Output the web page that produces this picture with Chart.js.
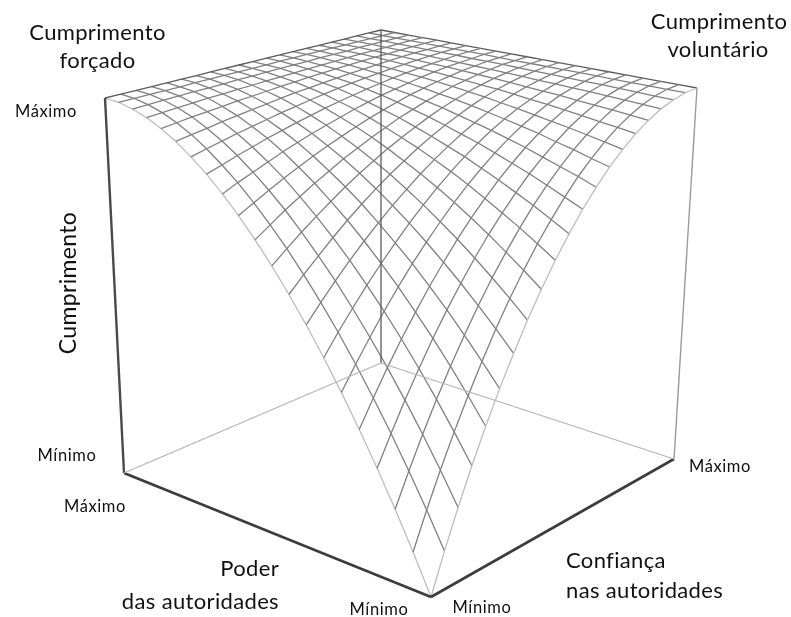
<!DOCTYPE html>
<html lang="pt">
<head>
<meta charset="utf-8">
<title>Cumprimento</title>
<script src="https://cdn.jsdelivr.net/npm/chart.js@4"></script>
<style>
	html, body { margin: 0; padding: 0; background: #fff; }
	canvas { display: block; }
</style>
</head>
<body>
<canvas id="myChart" width="791" height="617"></canvas>
<script>
// grid positions on both floor axes (0 = Mínimo, 1 = Máximo)
const poder = [0, 0.05, 0.1, 0.15, 0.2, 0.25, 0.3, 0.35, 0.4, 0.45, 0.5, 0.55, 0.6, 0.65, 0.7, 0.75, 0.8, 0.85, 0.9, 0.95, 1];
const confianca = [0, 0.05, 0.1, 0.15, 0.2, 0.25, 0.3, 0.35, 0.4, 0.45, 0.5, 0.55, 0.6, 0.65, 0.7, 0.75, 0.8, 0.85, 0.9, 0.95, 1];

// compliance height, one row per value of poder, one column per value of confianca
const cumprimento = [
	[0, .098, .19, .278, .36, .438, .51, .578, .64, .698, .75, .798, .84, .878, .91, .938, .96, .978, .99, .998, 1],
	[.098, .186, .269, .348, .422, .492, .558, .619, .675, .727, .774, .817, .856, .889, .919, .944, .964, .98, .991, .998, 1],
	[.19, .269, .344, .415, .482, .544, .603, .658, .708, .755, .798, .836, .87, .901, .927, .949, .968, .982, .992, .998, 1],
	[.278, .348, .415, .478, .538, .594, .646, .695, .74, .781, .819, .854, .884, .911, .935, .955, .971, .984, .993, .998, 1],
	[.36, .422, .482, .538, .59, .64, .686, .73, .77, .806, .84, .87, .898, .922, .942, .96, .974, .986, .994, .998, 1],
	[.438, .492, .544, .594, .64, .684, .724, .762, .798, .83, .859, .886, .91, .931, .949, .965, .978, .987, .994, .999, 1],
	[.51, .558, .603, .646, .686, .724, .76, .793, .824, .852, .878, .901, .922, .94, .956, .969, .98, .989, .995, .999, 1],
	[.578, .619, .658, .695, .73, .762, .793, .821, .848, .872, .894, .914, .932, .948, .962, .974, .983, .99, .996, .999, 1],
	[.64, .675, .708, .74, .77, .798, .824, .848, .87, .891, .91, .927, .942, .956, .968, .978, .986, .992, .996, .999, 1],
	[.698, .727, .755, .781, .806, .83, .852, .872, .891, .908, .924, .939, .952, .963, .973, .981, .988, .993, .997, .999, 1],
	[.75, .774, .798, .819, .84, .859, .878, .894, .91, .924, .938, .949, .96, .969, .978, .984, .99, .994, .998, .999, 1],
	[.798, .817, .836, .854, .87, .886, .901, .914, .927, .939, .949, .959, .968, .975, .982, .987, .992, .995, .998, .999, 1],
	[.84, .856, .87, .884, .898, .91, .922, .932, .942, .952, .96, .968, .974, .98, .986, .99, .994, .996, .998, 1, 1],
	[.878, .889, .901, .911, .922, .931, .94, .948, .956, .963, .969, .975, .98, .985, .989, .992, .995, .997, .999, 1, 1],
	[.91, .919, .927, .935, .942, .949, .956, .962, .968, .973, .978, .982, .986, .989, .992, .994, .996, .998, .999, 1, 1],
	[.938, .944, .949, .955, .96, .965, .969, .974, .978, .981, .984, .987, .99, .992, .994, .996, .998, .999, .999, 1, 1],
	[.96, .964, .968, .971, .974, .978, .98, .983, .986, .988, .99, .992, .994, .995, .996, .998, .998, .999, 1, 1, 1],
	[.978, .98, .982, .984, .986, .987, .989, .99, .992, .993, .994, .995, .996, .997, .998, .999, .999, .999, 1, 1, 1],
	[.99, .991, .992, .993, .994, .994, .995, .996, .996, .997, .998, .998, .998, .999, .999, .999, 1, 1, 1, 1, 1],
	[.998, .998, .998, .998, .998, .999, .999, .999, .999, .999, .999, 1, 1, 1, 1, 1, 1, 1, 1, 1, 1],
	[1, 1, 1, 1, 1, 1, 1, 1, 1, 1, 1, 1, 1, 1, 1, 1, 1, 1, 1, 1, 1],
];

// camera calibration: where the cube corners land on the page [min/min, poder max, confianca max, both max]
const floorCorners = [[431, 597], [124, 473], [674, 459], [381, 363]];
const topCorners = [[424, 180], [105, 98], [697, 88], [381, 30]];
const heightFalloff = 0.93; // top of the cube is nearer to the camera than the floor

const squareToQuad = function (q) {
	const [x0, y0] = q[0], [x1, y1] = q[1], [x3, y3] = q[2], [x2, y2] = q[3];
	const dx1 = x1 - x2, dx2 = x3 - x2, sx = x0 - x1 + x2 - x3;
	const dy1 = y1 - y2, dy2 = y3 - y2, sy = y0 - y1 + y2 - y3;
	const den = dx1 * dy2 - dx2 * dy1;
	const g = (sx * dy2 - dx2 * sy) / den;
	const h = (dx1 * sy - sx * dy1) / den;
	return function (p, t) {
		const w = g * p + h * t + 1;
		return [
			((x1 - x0 + g * x1) * p + (x3 - x0 + h * x3) * t + x0) / w,
			((y1 - y0 + g * y1) * p + (y3 - y0 + h * y3) * t + y0) / w,
		];
	};
};
const floorMap = squareToQuad(floorCorners);
const topMap = squareToQuad(topCorners);

const project = function (p, t, z) {
	const a = floorMap(p, t);
	const b = topMap(p, t);
	const f = (z * heightFalloff) / (1 - z + z * heightFalloff);
	return { x: a[0] + (b[0] - a[0]) * f, y: a[1] + (b[1] - a[1]) * f };
};

const edge = function (from, to, color, width) {
	return {
		data: [project(...from), project(...to)],
		showLine: true,
		borderColor: color,
		borderWidth: width,
		pointRadius: 0,
	};
};

const createDatasets = function () {
	const sets = [
		edge([1, 1, 0], [1, 0, 0], '#b4b4b4', 1.2),
		edge([1, 1, 0], [0, 1, 0], '#b4b4b4', 1.2),
		edge([1, 1, 0], [1, 1, 1], '#5a5a5a', 1.3),
		edge([1, 0, 0], [0, 0, 0], '#3c3c3c', 2.6),
		edge([0, 1, 0], [0, 0, 0], '#3c3c3c', 2.6),
		edge([1, 0, 0], [1, 0, 1], '#4a4a4a', 2.4),
		edge([0, 1, 0], [0, 1, 1], '#9a9a9a', 1.4),
	];
	poder.forEach(function (p, i) {
		sets.push({
			data: confianca.map((t, j) => project(p, t, cumprimento[i][j])),
			showLine: true,
			borderColor: i === 0 ? '#bdbdbd' : i === 20 ? '#5c5c5c' : '#808080',
			borderWidth: 1.3,
			pointRadius: 0,
		});
	});
	confianca.forEach(function (t, j) {
		sets.push({
			data: poder.map((p, i) => project(p, t, cumprimento[i][j])),
			showLine: true,
			borderColor: j === 0 ? '#bdbdbd' : j === 20 ? '#5c5c5c' : '#808080',
			borderWidth: 1.3,
			pointRadius: 0,
		});
	});
	return sets;
};

// text: content, x, y, font size, align, rotation
const labels = [
	['Cumprimento', 97.5, 33, 22, 'center', 0],
	['forçado', 97.5, 61, 22, 'center', 0],
	['Cumprimento', 719, 22, 22, 'center', 0],
	['voluntário', 718, 50, 22, 'center', 0],
	['Cumprimento', 69, 283, 23, 'center', -90],
	['Poder', 279, 569, 22, 'right', 0],
	['das autoridades', 279, 602, 22, 'right', 0],
	['Confiança', 566, 561, 22, 'left', 0],
	['nas autoridades', 566, 591, 22, 'left', 0],
	['Máximo', 46, 112, 16.5, 'center', 0],
	['Mínimo', 67, 456, 16.5, 'center', 0],
	['Máximo', 95, 507, 16.5, 'center', 0],
	['Mínimo', 379, 610, 16.5, 'center', 0],
	['Mínimo', 482, 608, 16.5, 'center', 0],
	['Máximo', 720, 467, 16.5, 'center', 0],
];

const labelPlugin = {
	id: 'labelPlugin',
	afterDraw: function (chart) {
		const ctx = chart.ctx;
		for (const [text, x, y, size, align, rot] of labels) {
			ctx.save();
			ctx.translate(x, y);
			ctx.rotate((rot * Math.PI) / 180);
			ctx.font = `${size}px Lato`;
			ctx.letterSpacing = size > 20 ? '0.35px' : '0.6px';
			ctx.fillStyle = '#111';
			ctx.textAlign = align;
			ctx.textBaseline = 'middle';
			ctx.fillText(text, 0, 0);
			ctx.restore();
		}
	},
};

const createChart = function () {
	const ctx = document.getElementById('myChart');
	new Chart(ctx, {
		type: 'scatter',
		data: { datasets: createDatasets() },
		options: {
			responsive: false,
			animation: false,
			layout: { padding: 0 },
			plugins: { legend: { display: false }, tooltip: { enabled: false } },
			scales: {
				x: { type: 'linear', display: false, min: 0, max: 791 },
				y: { type: 'linear', display: false, min: 0, max: 617, reverse: true },
			},
		},
		plugins: [labelPlugin],
	});
};

document.addEventListener('DOMContentLoaded', createChart);
</script>
</body>
</html>
